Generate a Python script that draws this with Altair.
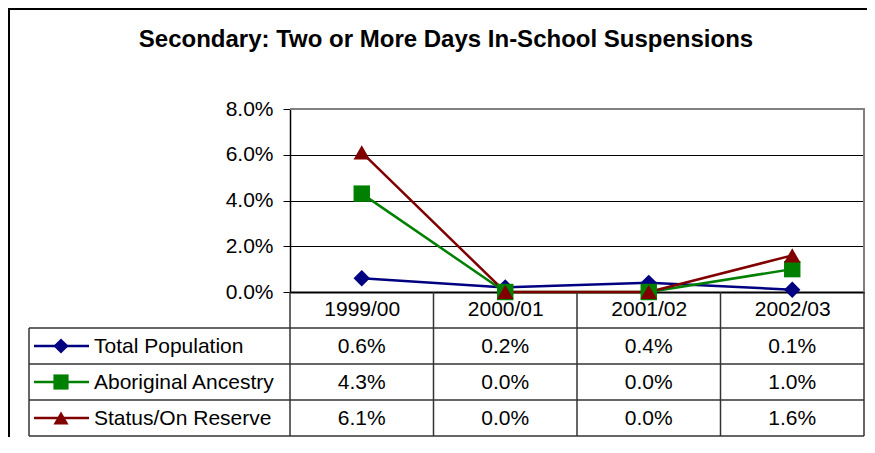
import altair as alt
import pandas as pd

TITLE = "Secondary: Two or More Days In-School Suspensions"
years = ["1999/00", "2000/01", "2001/02", "2002/03"]
series = ["Total Population", "Aboriginal Ancestry", "Status/On Reserve"]
total = [0.6, 0.2, 0.4, 0.1]
aboriginal = [4.3, 0.0, 0.0, 1.0]
status = [6.1, 0.0, 0.0, 1.6]
colors = ["#000080", "#008000", "#800000"]
shapes = ["diamond", "square", "triangle-up"]
y_ticks = [0, 0.02, 0.04, 0.06, 0.08]

FONT = "Liberation Sans"
FS = 21
W, H = 574, 183
ROW = 36

rows = []
for i, (name, vals) in enumerate(zip(series, [total, aboriginal, status])):
    for yr, v in zip(years, vals):
        rows.append({"series": name, "year": yr, "value": v / 100,
                     "label": f"{v:.1f}%", "row": i + 1.5, "order": i})
df = pd.DataFrame(rows)
leg = pd.DataFrame({"series": series, "row": [1.5, 2.5, 3.5], "order": [0, 1, 2]})
one = pd.DataFrame({"t": [TITLE]})

X = alt.X("year:N", scale=alt.Scale(domain=years, type="point", padding=0.5),
          axis=alt.Axis(title=None, labelFontSize=FS, labelFont=FONT, labelColor="black",
                        labelPadding=6, ticks=False, domainColor="black", domainWidth=2,
                        labelAngle=0, grid=False))
Y = alt.Y("value:Q", scale=alt.Scale(domain=[0, 0.08], nice=False, zero=True),
          axis=alt.Axis(title=None, values=y_ticks, format=".1%", labelFontSize=FS,
                        labelFont=FONT, labelColor="black", tickSize=7, tickColor="black",
                        domainColor="black", domainWidth=1.5, gridColor="black", gridWidth=1,
                        labelPadding=10, labelFlush=False, labelOverlap=False))
COLOR = alt.Color("series:N", scale=alt.Scale(domain=series, range=colors), legend=None)
SHAPE = alt.Shape("series:N", scale=alt.Scale(domain=series, range=shapes), legend=None)
RY = alt.Y("row:Q", scale=alt.Scale(domain=[0, 4], range=[H, H + 4 * ROW], nice=False, zero=False),
           axis=None)

lines = alt.Chart(df).mark_line(strokeWidth=2.5).encode(
    x=X, y=Y, color=COLOR, order=alt.Order("order:Q"), detail="series:N")
points = alt.Chart(df).mark_point(filled=True, opacity=1, size=270).encode(
    x=X, y=Y, color=COLOR, shape=SHAPE, order=alt.Order("order:Q"))
plot = alt.layer(lines, points)

leg_lines = alt.Chart(leg).mark_rule(strokeWidth=2.5).encode(
    x=alt.value(-256), x2=alt.value(-201), y=RY, color=COLOR)
leg_pts = alt.Chart(leg).mark_point(filled=True, opacity=1, size=230).encode(
    x=alt.value(-229), y=RY, color=COLOR, shape=SHAPE)
leg_text = alt.Chart(leg).mark_text(align="left", baseline="middle", font=FONT, fontSize=FS,
                                    color="black", dy=1).encode(
    x=alt.value(-196), y=RY, text="series:N")
val_text = alt.Chart(df).mark_text(align="center", baseline="middle", font=FONT, fontSize=FS,
                                   color="black", dy=1).encode(
    x=X, y=RY, text="label:N")
table = alt.layer(leg_lines, leg_pts, leg_text, val_text)

deco = []
GRID = "#333333"
# plot border (grey top and right)
deco.append(alt.Chart(one).mark_rule(color="#808080", strokeWidth=2).encode(
    x=alt.value(0), x2=alt.value(W + 1), y=alt.value(0)))
deco.append(alt.Chart(one).mark_rule(color="#808080", strokeWidth=2).encode(
    x=alt.value(W), y=alt.value(0), y2=alt.value(H)))
# table horizontal lines
for k in range(1, 5):
    deco.append(alt.Chart(one).mark_rule(color=GRID, strokeWidth=1.5).encode(
        x=alt.value(-261), x2=alt.value(W), y=alt.value(H + k * ROW)))
# table vertical lines
for k in range(5):
    deco.append(alt.Chart(one).mark_rule(color=GRID, strokeWidth=1.5).encode(
        x=alt.value(k * W / 4), y=alt.value(H), y2=alt.value(H + 4 * ROW)))
deco.append(alt.Chart(one).mark_rule(color=GRID, strokeWidth=1.5).encode(
    x=alt.value(-261), y=alt.value(H + ROW), y2=alt.value(H + 4 * ROW)))
# outer frame
deco.append(alt.Chart(one).mark_rule(color="black", strokeWidth=2).encode(
    x=alt.value(-281), y=alt.value(-101), y2=alt.value(H + 200)))
deco.append(alt.Chart(one).mark_rule(color="black", strokeWidth=2).encode(
    x=alt.value(-282), x2=alt.value(W + 20), y=alt.value(-100)))

title = alt.Chart(one).mark_text(align="center", baseline="middle", font=FONT, fontSize=24,
                                 fontWeight="bold", color="black").encode(
    x=alt.value(156), y=alt.value(-69), text="t:N")

chart = alt.layer(plot, table, *deco, title).resolve_scale(y="independent").properties(
    width=W, height=H,
    autosize=alt.AutoSizeParams(type="none"),
    padding={"left": 282, "top": 101, "right": 3, "bottom": 145},
    background="white",
).configure_view(stroke=None)

chart.save("out.html", embed_options={"renderer": "svg", "actions": False})
